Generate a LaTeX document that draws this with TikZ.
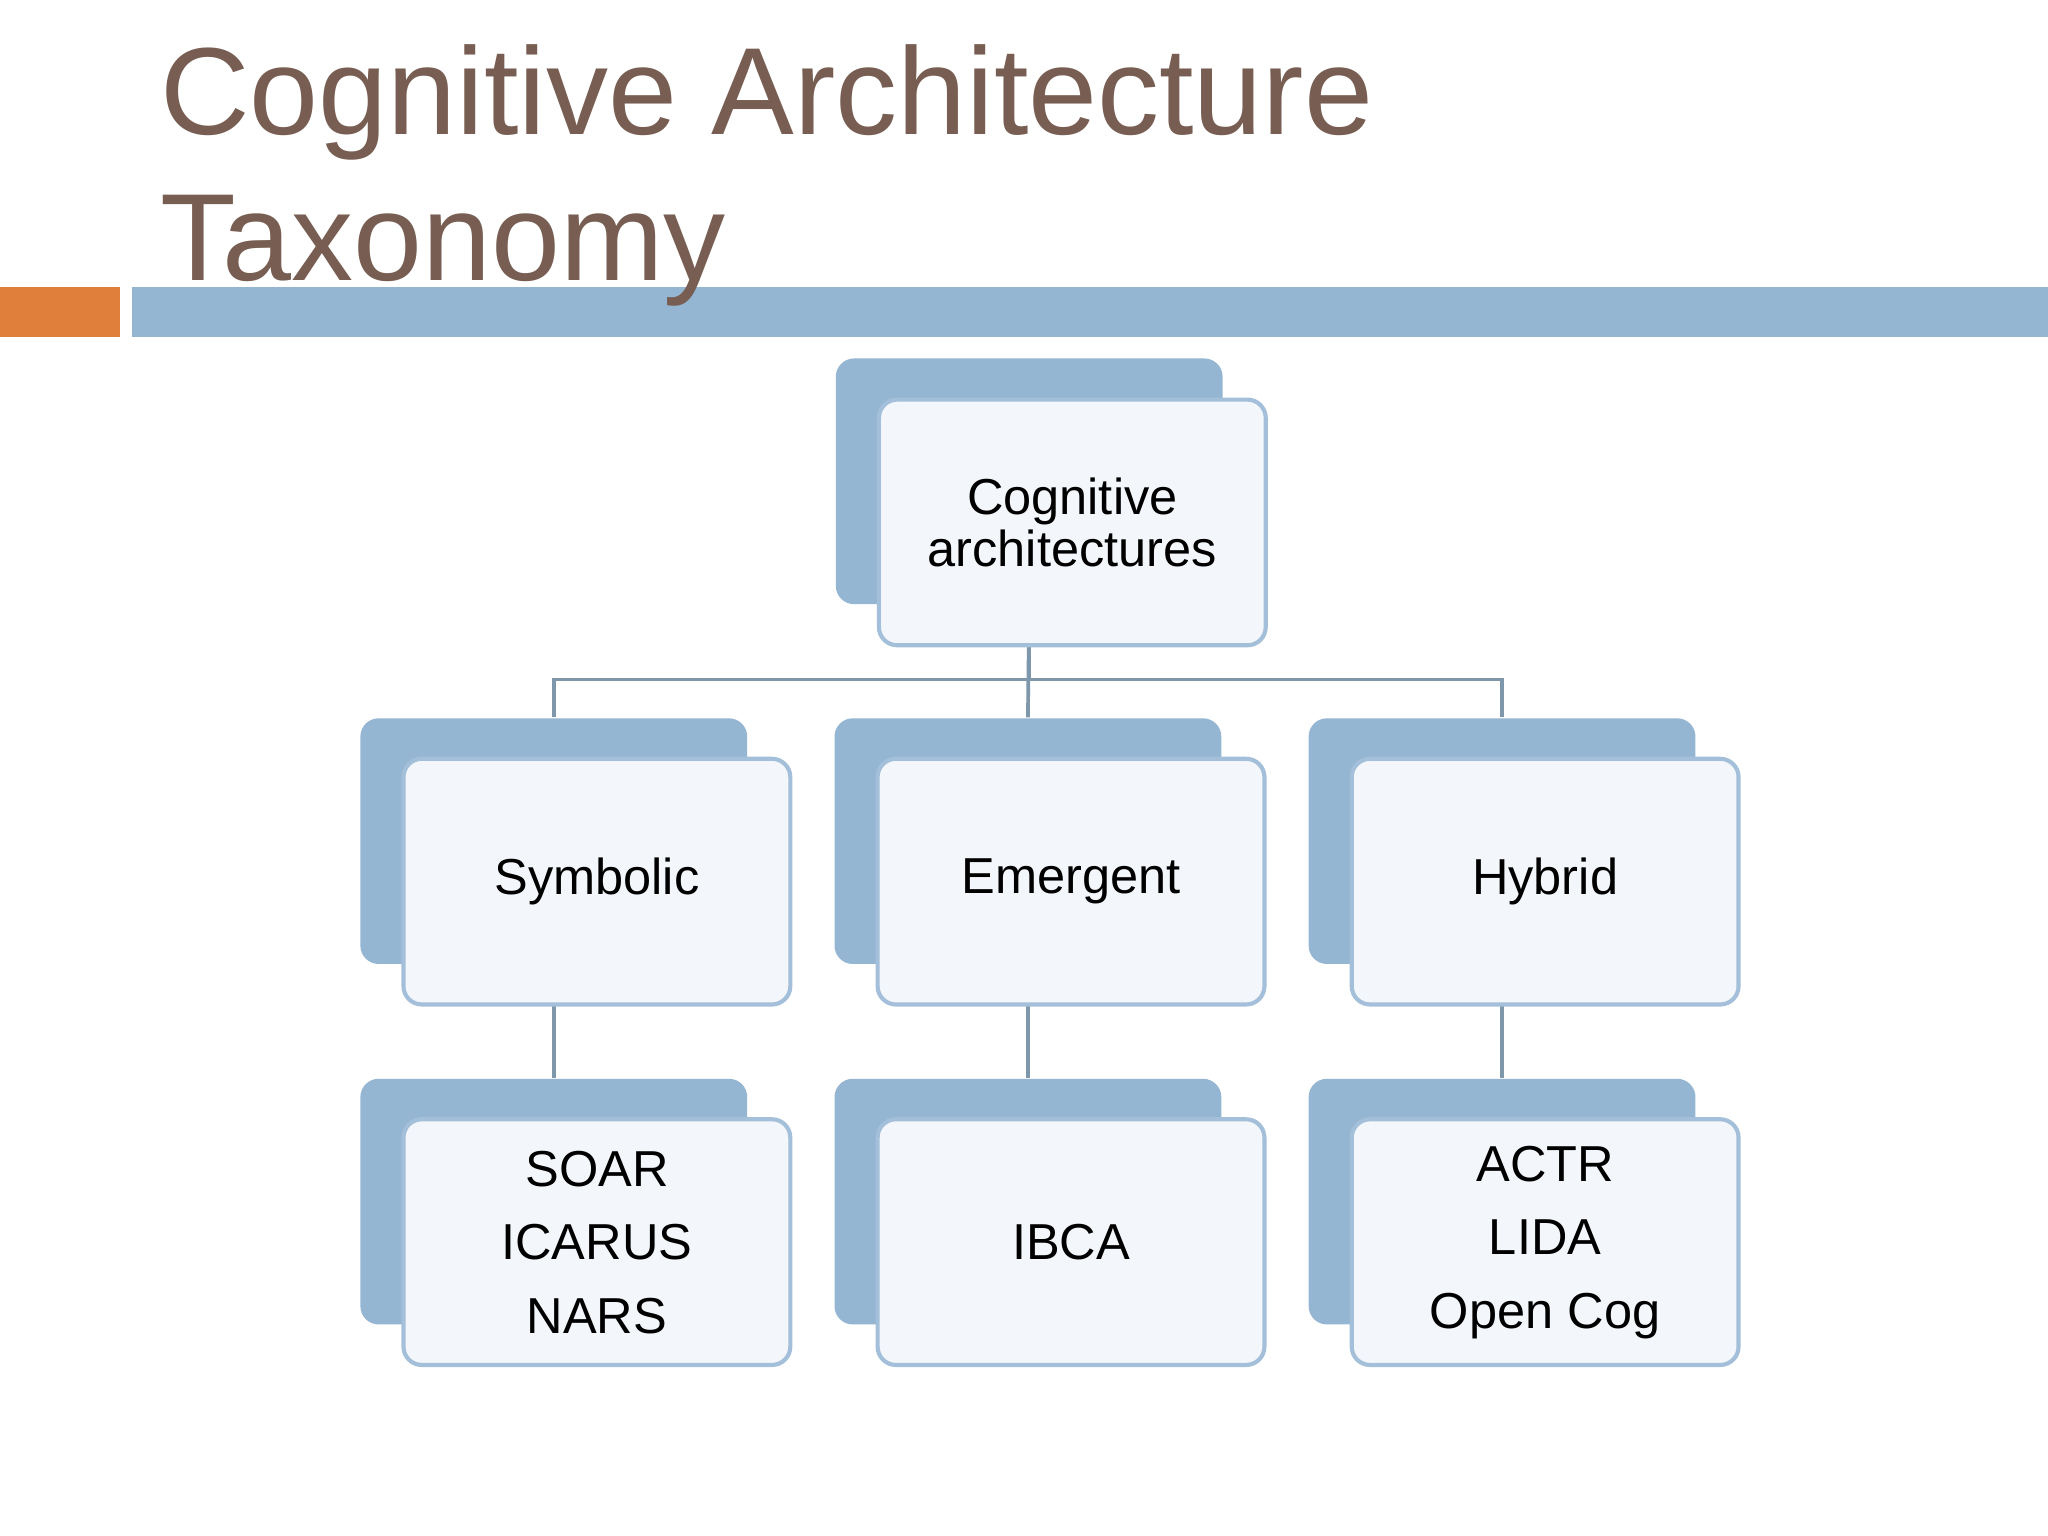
\documentclass[tikz,border=0pt]{standalone}
\usepackage{fontspec}
\setmainfont{Liberation Sans}
\usetikzlibrary{calc}
\begin{document}
\begin{tikzpicture}[x=0.01cm,y=-0.01cm,
  back/.style={draw=none,fill=boxblue,rounded corners=0.14cm,minimum width=2.96cm,minimum height=1.88cm,inner sep=0pt},
  front/.style={draw=edgeblue,line width=0.9pt,fill=frontfill,rounded corners=0.14cm,minimum width=2.96cm,minimum height=1.88cm,inner sep=0pt,font=\fontsize{11}{11.5}\selectfont,align=center,text=black},
  conn/.style={draw=linecol,line width=0.8pt}]
\definecolor{boxblue}{HTML}{94B6D2}
\definecolor{edgeblue}{HTML}{A3BFD9}
\definecolor{frontfill}{HTML}{F3F6FA}
\definecolor{linecol}{HTML}{7E97AA}
\definecolor{titlecol}{HTML}{785E52}
\definecolor{orangebar}{HTML}{E07E3C}
\path[use as bounding box,fill=white] (0,0) rectangle (1568,1176);
\fill[orangebar] (0,220) rectangle (92,258);
\fill[boxblue] (101,220) rectangle (1568,258);
\node[anchor=base west,text=titlecol,font=\fontsize{27}{32}\selectfont,inner sep=0pt] (t1) at (122,103) {Cognitive Architecture};
\node[anchor=base west,text=titlecol,font=\fontsize{27}{32}\selectfont,inner sep=0pt] (t2) at (122,215) {Taxonomy};
% back boxes
\node[back] (tb) at (788,368.5) {};
\node[back] (sb) at (424,644) {};
\node[back] (eb) at (787,644) {};
\node[back] (hb) at (1150,644) {};
\node[back] (s2b) at (424,920) {};
\node[back] (e2b) at (787,920) {};
\node[back] (h2b) at (1150,920) {};
% connectors
\draw[conn] (tb.south) |- ($(sb.north)+(0,-29)$) coordinate (jl) -- (sb.north);
\draw[conn] (tb.south) |- ($(hb.north)+(0,-29)$) coordinate (jr) -- (hb.north);
\draw[conn] (tb.south) -- (eb.north);
\draw[conn] (sb.south) -- (s2b.north);
\draw[conn] (eb.south) -- (e2b.north);
\draw[conn] (hb.south) -- (h2b.north);
% front boxes
\node[front] (tf) at (821,400) {Cognitive\\architectures};
\node[front] (sf) at (457,675) {Symbolic};
\node[front] (ef) at (820,675) {Emergent};
\node[front] (hf) at (1183,675) {Hybrid};
\node[front,font=\fontsize{11}{16}\selectfont] (s2f) at (457,951) {SOAR\\ICARUS\\NARS};
\node[front] (e2f) at (820,951) {IBCA};
\node[front,font=\fontsize{11}{16}\selectfont] (h2f) at (1183,951) {ACTR\\LIDA\\Open Cog};
\end{tikzpicture}
\end{document}
